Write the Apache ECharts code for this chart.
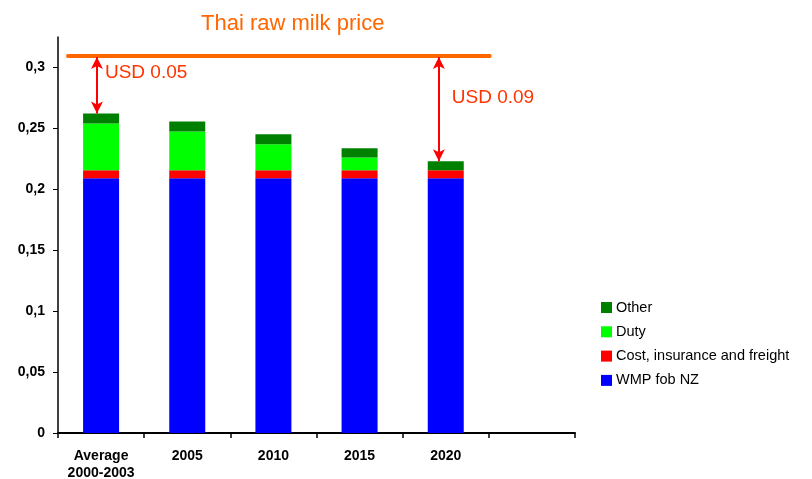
<!DOCTYPE html>
<html>
<head>
<meta charset="utf-8">
<script src="https://cdn.jsdelivr.net/npm/echarts@6/dist/echarts.min.js"></script>
<style>
  html, body { margin: 0; padding: 0; background: #fff; }
  #chart { width: 812px; height: 479px; }
</style>
</head>
<body>
<div id="chart"></div>
<script>
var categories = ['Average\n2000-2003', '2005', '2010', '2015', '2020', ''];
var wmpFob = [0.209, 0.209, 0.209, 0.209, 0.209];
var cifCost = [0.0066, 0.0066, 0.0066, 0.0066, 0.0066];
var duty = [0.0384, 0.0319, 0.0213, 0.0106, 0];
var other = [0.0083, 0.0082, 0.0082, 0.0074, 0.0074];
var yTicks = [0, 0.05, 0.1, 0.15, 0.2, 0.25, 0.3];
var thaiPrice = 0.31;
// gaps between the raw milk price and the first / last bar
var gapLabels = ['USD 0.05', 'USD 0.09'];

var myChart = echarts.init(document.getElementById('chart'));

var firstTop = wmpFob[0] + cifCost[0] + duty[0] + other[0];
var lastTop = wmpFob[4] + cifCost[4] + duty[4] + other[4];

var option = {
    animation: false,
    title: {
        text: 'Thai raw milk price',
        left: 196,
        top: 8,
        textStyle: {
            color: '#FF6600',
            fontFamily: 'Liberation Sans',
            fontWeight: 'normal',
            fontSize: 22
        }
    },
    legend: {
        orient: 'vertical',
        left: 601,
        top: 300,
        padding: 0,
        itemWidth: 11,
        itemHeight: 11,
        itemGap: 9.3,
        icon: 'rect',
        data: ['Other', 'Duty', 'Cost, insurance and freight', 'WMP fob NZ'],
        textStyle: {
            color: '#000',
            fontFamily: 'Liberation Sans',
            fontSize: 14.5,
            padding: [0, 0, 0, -1]
        }
    },
    grid: {
        left: 58,
        right: 237,
        top: 37,
        bottom: 46,
        containLabel: false,
        outerBoundsMode: 'none'
    },
    xAxis: [{
        type: 'category',
        data: categories,
        axisLine: { lineStyle: { color: '#000', width: 2 } },
        axisTick: { show: true, interval: 0, length: 5, lineStyle: { color: '#000', width: 1.5 } },
        axisLabel: {
            interval: 0,
            color: '#000',
            fontFamily: 'Liberation Sans',
            fontWeight: 'bold',
            fontSize: 14,
            lineHeight: 17,
            margin: 15
        }
    }, {
        type: 'value',
        min: 0,
        max: 6,
        show: false
    }],
    yAxis: {
        type: 'value',
        min: 0,
        max: 0.325,
        interval: 0.05,
        splitLine: { show: false },
        axisLine: { show: true, lineStyle: { color: '#000', width: 1.5 } },
        axisTick: { show: true, length: 5, customValues: yTicks, lineStyle: { color: '#000' } },
        axisLabel: {
            color: '#000',
            fontFamily: 'Liberation Sans',
            fontWeight: 'bold',
            fontSize: 14,
            margin: 13,
            customValues: yTicks,
            formatter: function (v) { return String(v).replace('.', ','); }
        }
    },
    series: [{
        name: 'WMP fob NZ',
        type: 'bar',
        stack: 'cost',
        barWidth: 36,
        itemStyle: { color: '#0000FF' },
        data: wmpFob
    }, {
        name: 'Cost, insurance and freight',
        type: 'bar',
        stack: 'cost',
        itemStyle: { color: '#FF0000' },
        data: cifCost
    }, {
        name: 'Duty',
        type: 'bar',
        stack: 'cost',
        itemStyle: { color: '#00FF00' },
        data: duty
    }, {
        name: 'Other',
        type: 'bar',
        stack: 'cost',
        itemStyle: { color: '#008000' },
        data: other
    }, {
        name: 'annotations',
        type: 'scatter',
        xAxisIndex: 1,
        data: [],
        silent: true,
        markLine: {
            silent: true,
            animation: false,
            label: { show: false },
            data: [
                [{ coord: [0.116, thaiPrice], symbol: 'none', lineStyle: { color: '#FF6600', width: 4, cap: 'round' } },
                 { coord: [5.01, thaiPrice], symbol: 'none' }],
                [{ coord: [0.452, thaiPrice - 0.0015], symbol: 'arrow', symbolSize: [9, 12], lineStyle: { color: '#FF0000', width: 2 } },
                 { coord: [0.452, firstTop], symbol: 'arrow', symbolSize: [9, 12] }],
                [{ coord: [4.42, thaiPrice - 0.0015], symbol: 'arrow', symbolSize: [9, 12], lineStyle: { color: '#FF0000', width: 2 } },
                 { coord: [4.42, lastTop], symbol: 'arrow', symbolSize: [9, 12] }]
            ],
            lineStyle: { type: 'solid', opacity: 1 }
        },
        markPoint: {
            silent: true,
            symbol: 'circle',
            symbolSize: 0,
            label: {
                show: true,
                position: 'right',
                distance: 0,
                color: '#FF3300',
                fontFamily: 'Liberation Sans',
                fontSize: 19,
                formatter: '{b}'
            },
            data: [
                { name: gapLabels[0], coord: [0.545, 0.296] },
                { name: gapLabels[1], coord: [4.57, 0.2754] }
            ]
        }
    }]
};

myChart.setOption(option);
</script>
</body>
</html>
